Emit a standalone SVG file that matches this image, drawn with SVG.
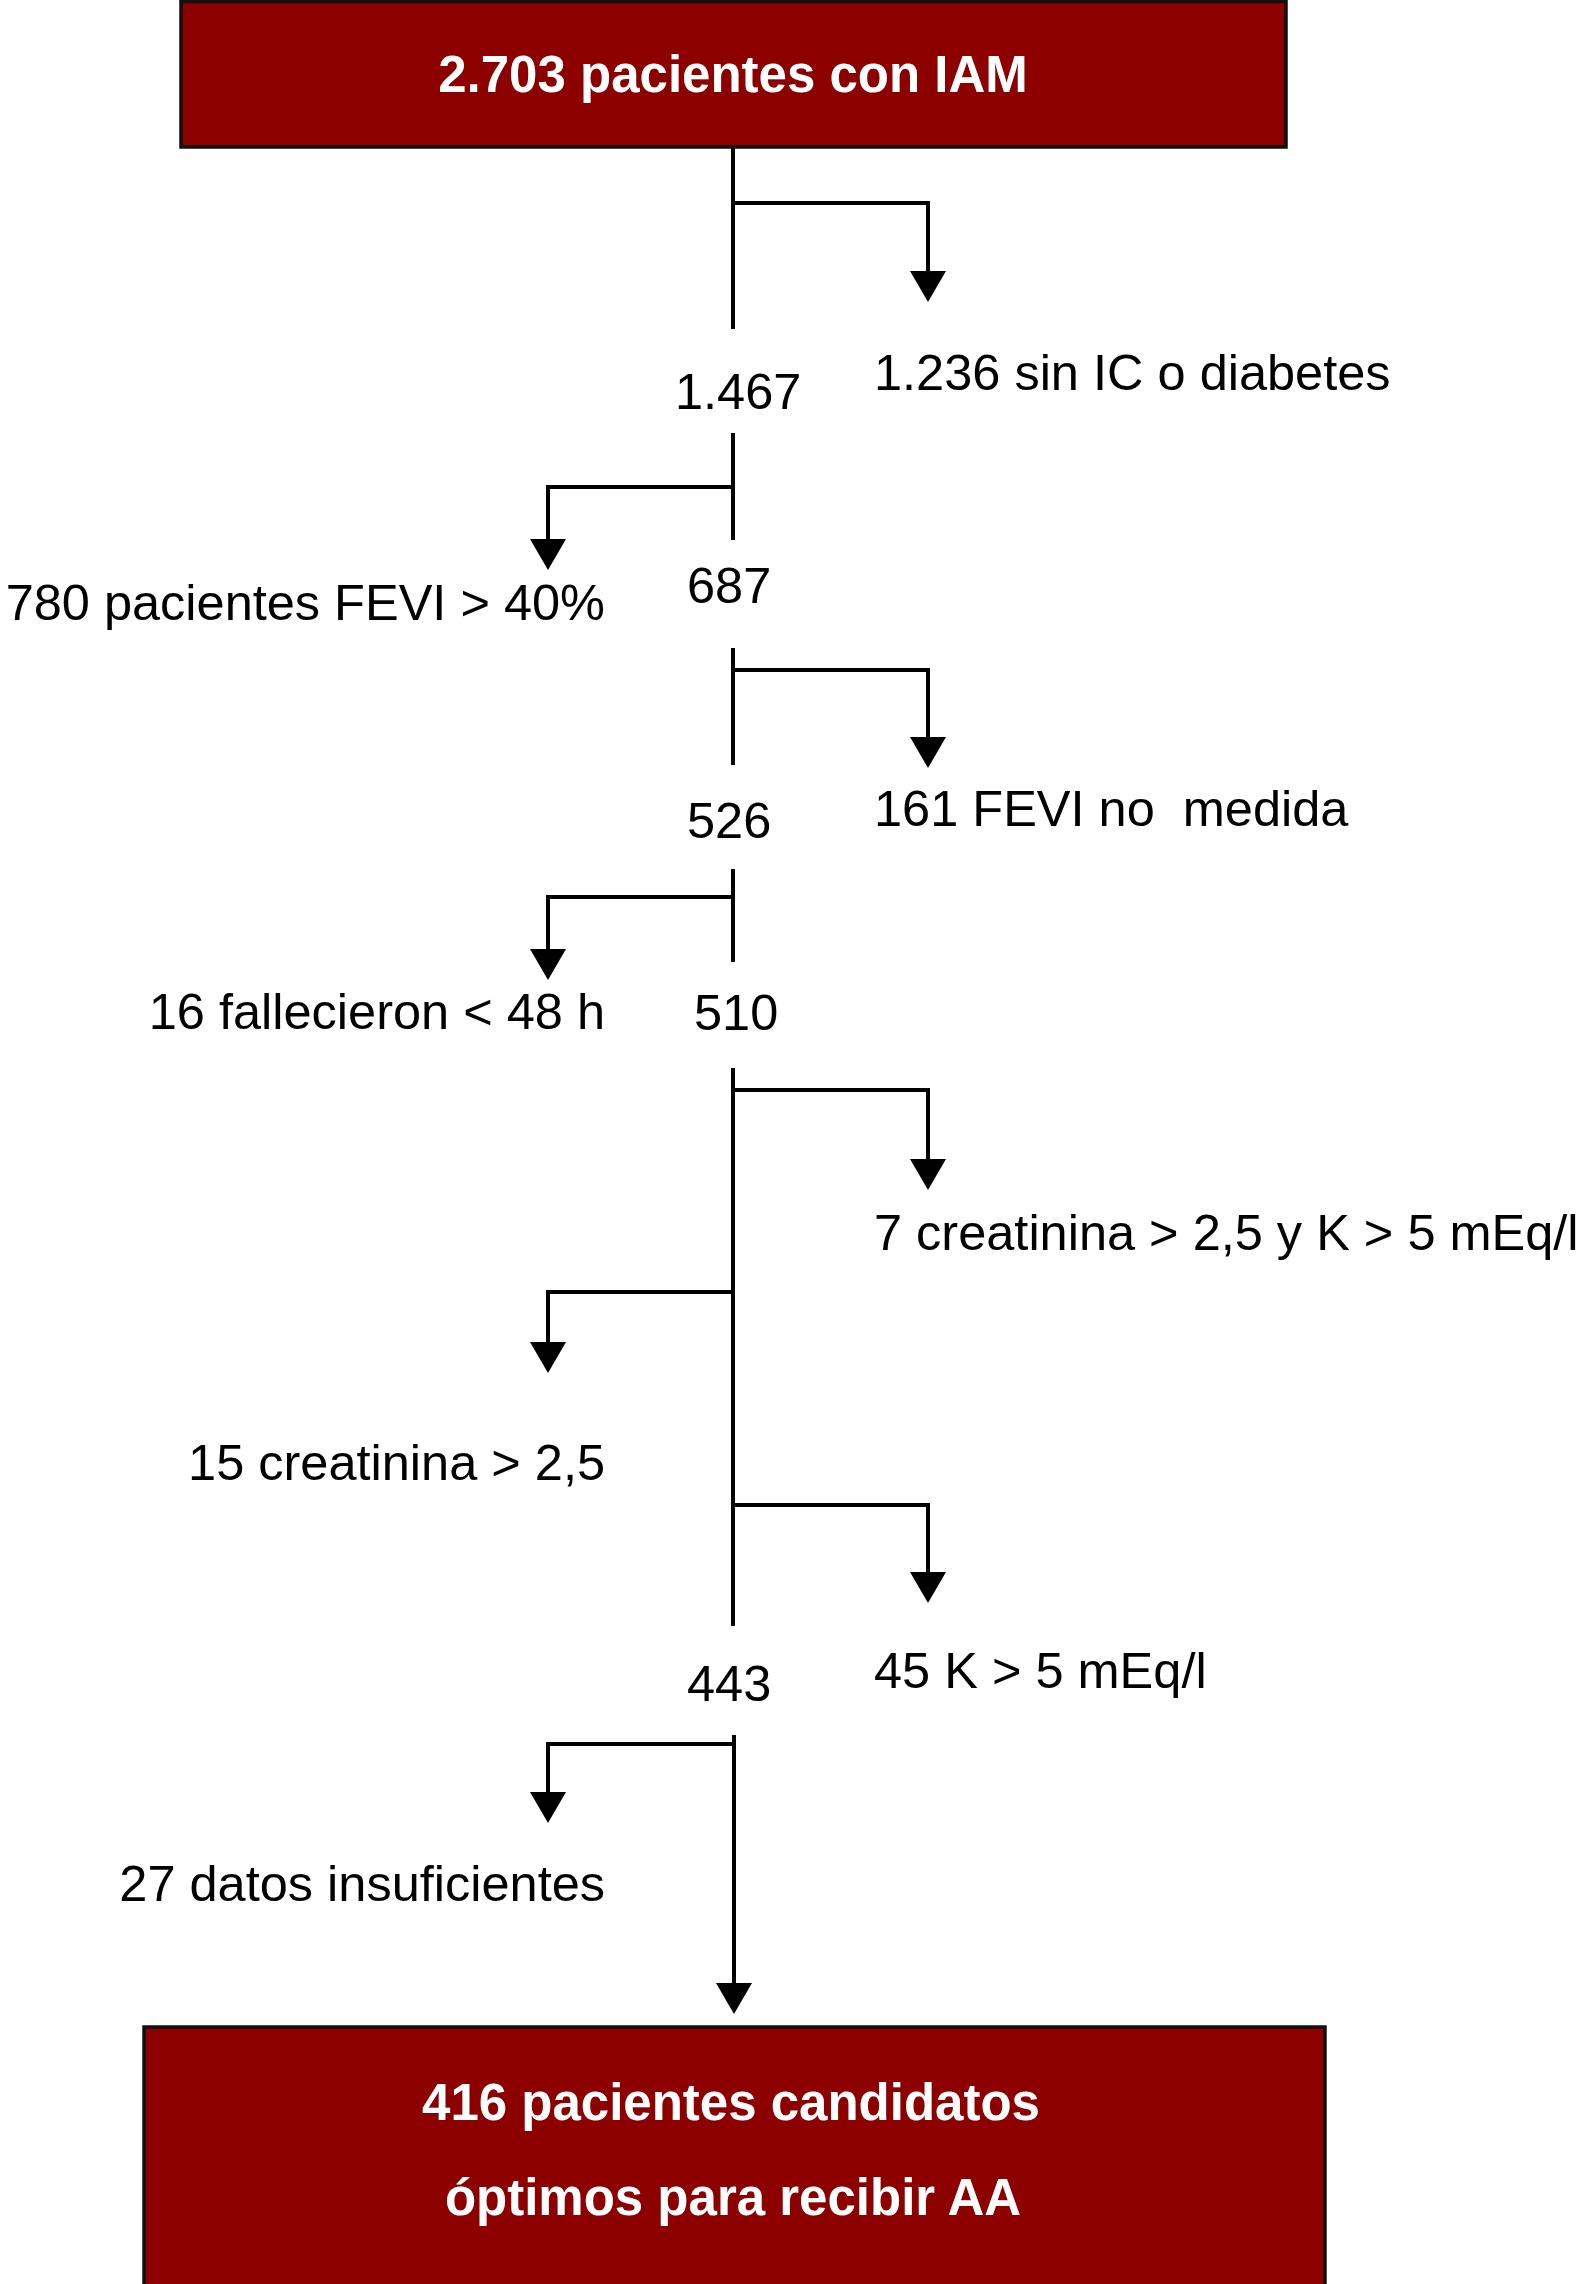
<svg xmlns="http://www.w3.org/2000/svg" width="1583" height="2284" viewBox="0 0 1583 2284">
<defs>
<style>
.box{fill:#8c0000;stroke:#111;stroke-width:3.5}
.bt{font-family:"Liberation Sans",Arial,sans-serif;font-weight:bold;font-size:51px;fill:#fff;text-anchor:middle}
.t{font-family:"Liberation Sans",Arial,sans-serif;font-size:50.5px;fill:#000}
.l{text-anchor:end}
.c{fill:none;stroke:#000;stroke-width:4}
</style>
<marker id="ah" markerUnits="userSpaceOnUse" markerWidth="31" markerHeight="36" refX="0" refY="18" orient="auto" viewBox="0 0 31 36">
<path d="M0,0 L31,18 L0,36 z" fill="#000"/>
</marker>
</defs>
<rect width="1583" height="2284" fill="#fff"/>
<g id="connectors">
<path class="c" d="M733,148 V329"/>
<path class="c" d="M733,203 H928 V271" marker-end="url(#ah)"/>
<path class="c" d="M733,433 V540"/>
<path class="c" d="M733,487 H548 V539" marker-end="url(#ah)"/>
<path class="c" d="M733,648 V765"/>
<path class="c" d="M733,670 H928 V737" marker-end="url(#ah)"/>
<path class="c" d="M733,869 V962"/>
<path class="c" d="M733,897 H548 V949" marker-end="url(#ah)"/>
<path class="c" d="M733,1068 V1626"/>
<path class="c" d="M733,1090 H928 V1159" marker-end="url(#ah)"/>
<path class="c" d="M733,1292 H548 V1342" marker-end="url(#ah)"/>
<path class="c" d="M733,1505 H928 V1572" marker-end="url(#ah)"/>
<path class="c" d="M734,1735 V1983" marker-end="url(#ah)"/>
<path class="c" d="M734,1744 H548 V1792" marker-end="url(#ah)"/>
</g>
<g id="node-top">
<rect class="box" x="181" y="1.5" width="1105" height="145.5"/>
<text class="bt" x="733" y="92">2.703 pacientes con IAM</text>
</g>
<g id="node-1467"><text class="t" x="675" y="409">1.467</text></g>
<g id="node-1236"><text class="t" x="874" y="390">1.236 sin IC o diabetes</text></g>
<g id="node-780"><text class="t l" x="605" y="620">780 pacientes FEVI &gt; 40%</text></g>
<g id="node-687"><text class="t" x="687" y="603">687</text></g>
<g id="node-526"><text class="t" x="687" y="838">526</text></g>
<g id="node-161"><text class="t" x="874" y="826">161 FEVI no&#160; medida</text></g>
<g id="node-16"><text class="t l" x="605" y="1029">16 fallecieron &lt; 48 h</text></g>
<g id="node-510"><text class="t" x="694" y="1030">510</text></g>
<g id="node-7"><text class="t" x="874" y="1250">7 creatinina &gt; 2,5 y K &gt; 5 mEq/l</text></g>
<g id="node-15"><text class="t l" x="605" y="1480">15 creatinina &gt; 2,5</text></g>
<g id="node-45"><text class="t" x="874" y="1688">45 K &gt; 5 mEq/l</text></g>
<g id="node-443"><text class="t" x="687" y="1701">443</text></g>
<g id="node-27"><text class="t l" x="605" y="1901">27 datos insuficientes</text></g>
<g id="node-bottom">
<rect class="box" x="144" y="2027" width="1181" height="270"/>
<text class="bt" x="731" y="2120">416 pacientes candidatos</text>
<text class="bt" x="733" y="2215">óptimos para recibir AA</text>
</g>
</svg>
